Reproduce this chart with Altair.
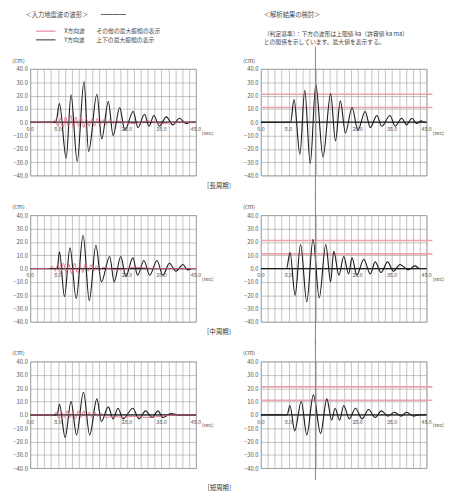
import altair as alt
import pandas as pd

# ---------------- data ----------------
T_MAX = 48
Y_TICKS = [-40, -30, -20, -10, 0, 10, 20, 30, 40]
X_GRID = list(range(0, 49, 2))
X_LABEL_T = [0, 8, 28, 38, 48]
X_LABEL_TXT = ["0.0", "8.0", "28.0", "38.0", "48.0"]
UNIT_T = [48]
UNIT_TXT = ["(sec)"]
LIMITS = [21, 11]
MARK_T = [15.8]

SERIES = ["X方向波　　その他の最大振幅の表示", "Y方向波　　上下の最大振幅の表示"]

L1_T = [0, 7.4, 8.45, 10.4, 11.8, 13.6, 15.55, 16.9, 19.3, 20.7, 22.6, 24.0, 25.9, 27.4, 29.8, 31.2, 33.1, 34.4, 35.8, 37.4, 39.4, 41.3, 43.2, 45.1, 46.4, 48]
L1_V = [0, 0, 14, -27, 20.5, -29.5, 30.5, -22, 21, -12.5, 15.5, -10, 11, -6, 8, -4, 6, -3, 5, -3, 4, -2, 3, -1, 0, 0]
L1_RT = [0, 6.5, 7.2, 8.0, 8.7, 9.5, 10.2, 11.0, 11.7, 12.5, 13.2, 14.0, 14.7, 15.5, 16.2, 17.0, 17.8, 18.6, 19.4, 20.2, 21.0, 22.0, 23.0, 24.0, 25.0, 27, 30, 34, 38, 42, 48]
L1_RV = [0, 0, 2, -3, 3, -4, 4, -3, 5, -4, 4, -3, 4, -4, 3, -3, 2, -3, 3, -2, 2, -2, 2, -1, 1, 0, -1, 1, -1, 0, 0]

L2_T = [0, 7.8, 8.45, 9.9, 11.5, 13.3, 15.3, 17.1, 19.0, 20.6, 23.0, 24.3, 26.2, 27.7, 29.7, 31.1, 32.9, 34.6, 36.7, 38.4, 40.3, 42.2, 44.2, 45.6, 46.8, 48]
L2_V = [0, 0, 12.5, -21, 15.5, -22.5, 25, -24, 17.5, -10, 9, -10, 9, -6, 8, -5, 6, -5, 6, -5, 4, -2, 3, -1, 0, 0]
L2_RT = [0, 5.6, 6.4, 7.2, 8.0, 8.8, 9.6, 10.4, 11.2, 12.0, 12.8, 13.6, 14.4, 15.2, 16.0, 16.8, 17.6, 18.4, 19.2, 20.0, 21.0, 22.6, 26, 30, 36, 48]
L2_RV = [0, 0, 2, -2, 3, -3, 4, -3, 3, -4, 4, -3, 3, -3, 4, -2, 3, -2, 2, -2, 1, 0, -1, 1, 0, 0]

L3_T = [0, 7.8, 8.45, 10.1, 11.8, 13.4, 15.4, 17.2, 19.3, 20.6, 22.6, 24.0, 25.4, 26.9, 29.7, 31.5, 33.4, 35.3, 37.0, 38.4, 40.8, 43.0, 48]
L3_V = [0, 0, 8, -17, 10, -15, 17, -15, 12, -5, 6, -3, 5, -3, 5, -3, 3, -2, 3, -2, 1, 0, 0]
L3_RT = [0, 6.7, 7.5, 8.3, 9.1, 9.9, 10.7, 11.5, 12.3, 13.1, 13.9, 14.7, 15.5, 16.3, 17.1, 17.9, 18.7, 19.5, 20.5, 22.0, 24.0, 27.0, 30.0, 34.0, 38.0, 42.0, 48]
L3_RV = [0, 0, 2, -3, 2, -2, 3, -2, 2, -3, 3, -2, 3, -2, 2, -2, 2, -1, 1, -2, -1, -2, -1, -2, -1, 0, 0]

R1_T = [0, 8.6, 9.6, 11.3, 12.7, 14.3, 15.9, 18.0, 20.2, 21.6, 23.0, 24.5, 26.4, 28.1, 30.2, 31.7, 33.6, 35.0, 37.4, 38.9, 40.8, 42.2, 43.7, 45.1, 46.5, 47.2, 48]
R1_V = [0, 0, 17, -24, 24, -31, 28, -26, 21.5, -14, 16, -8, 11, -6, 8, -4, 5, -3, 5, -3, 3, -2, 3, -1, 1, 0, 0]

R2_T = [0, 7.4, 8.45, 9.9, 11.5, 13.3, 15.1, 16.9, 18.8, 20.2, 21.1, 22.6, 24.0, 25.4, 26.4, 27.8, 29.8, 31.7, 33.1, 34.8, 36.7, 38.4, 40.3, 42.7, 44.6, 46.0, 48]
R2_V = [0, 0, 12, -20, 18, -25, 22, -22, 18, -10, 13, -5, 9, -4, 8, -5, 7, -4, 5, -3, 5, -2, 3, -1, 2, 0, 0]

R3_T = [0, 7.6, 8.4, 9.8, 11.7, 13.3, 15.2, 17.3, 19.1, 20.5, 21.5, 22.8, 24.0, 25.6, 27.4, 29.3, 31.2, 33.1, 34.9, 36.8, 38.7, 40.6, 42.2, 44.2, 45.6, 48]
R3_V = [0, 0, 7, -12, 10, -15, 15, -14, 12, -4, 5, -4, 7, -3, 5, -3, 4, -2, 3, -1, 2, -1, 2, -1, 0, 0]

CAPTIONS = ["［長周期］", "［中周期］", "［短周期］"]
LEFT_HEAD = "＜入力地震波の波形＞　　━━━━"
RIGHT_HEAD = "＜解析結果の検討＞"
RIGHT_SUB = ["　　（判定基準）：下方の波形は上限値 ka（許容値 ka ma）",
             "　　との関係を示しています。最大値を表示する。"]

# ---------------- style ----------------
W, H = 171, 110
PINK = "#e0647c"
LIMIT_PINK = "#eca3ae"
INK = "#1c1c1c"
GRID = "#9a9a9a"
FONT = "Noto Sans CJK JP"

xs = alt.Scale(domain=[0, T_MAX], nice=False, zero=False)
ys = alt.Scale(domain=[-40, 40], nice=False)
xax = alt.Axis(values=X_GRID, labels=False, ticks=False, domain=False, grid=True, title=None)
yax = alt.Axis(values=Y_TICKS, format=".1f", ticks=False, domain=False, grid=True,
               title="(cm)", titleAngle=0, titleX=-19, titleY=-6, titleAlign="left",
               titleBaseline="bottom", labelPadding=3)


def panel(t, v, red=None, right=False, title=None, legend=False, rule_down=25):
    layers = []
    if right:
        layers.append(
            alt.Chart(pd.DataFrame({"y": LIMITS})).mark_rule(color=LIMIT_PINK, strokeWidth=1.6)
            .encode(y=alt.Y("y:Q", scale=ys, axis=yax), x=alt.value(0), x2=alt.value(W + 6))
        )
    layers.append(
        alt.Chart(pd.DataFrame({"y": [0]})).mark_rule(color=INK, strokeWidth=1.3)
        .encode(y=alt.Y("y:Q", scale=ys, axis=yax))
    )
    if legend:
        color = alt.Color("s:N", scale=alt.Scale(domain=SERIES, range=[PINK, INK]),
                          legend=alt.Legend(orient="none", legendX=10, legendY=-45, title=None,
                                            symbolType="M-2,0L2,0", symbolSize=100,
                                            symbolStrokeWidth=1.1, labelFontSize=6,
                                            labelColor="#444", rowPadding=-3, labelOffset=13))
    else:
        color = None
    bdf = pd.DataFrame({"t": t, "v": v, "s": SERIES[1]})
    black = alt.Chart(bdf).mark_line(interpolate="monotone", strokeWidth=1.15).encode(
        x=alt.X("t:Q", scale=xs, axis=xax), y=alt.Y("v:Q", scale=ys, axis=yax), order="t:Q",
        color=color if legend else alt.value(INK))
    layers.append(black)
    if red is not None:
        rdf = pd.DataFrame({"t": red[0], "v": red[1], "s": SERIES[0]})
        redl = alt.Chart(rdf).mark_line(interpolate="monotone", strokeWidth=1.0, opacity=0.85).encode(
            x=alt.X("t:Q", scale=xs, axis=xax), y=alt.Y("v:Q", scale=ys, axis=yax), order="t:Q",
            color=color if legend else alt.value(PINK))
        layers.append(redl)
    if right:
        layers.append(
            alt.Chart(pd.DataFrame({"t": MARK_T})).mark_rule(color="#d9576e", strokeWidth=1.0)
            .encode(x=alt.X("t:Q", scale=xs, axis=xax), y=alt.value(-23), y2=alt.value(H + rule_down))
        )
    lab = pd.DataFrame({"t": X_LABEL_T, "txt": X_LABEL_TXT, "y": 0})
    layers.append(
        alt.Chart(lab).mark_text(dy=7, fontSize=5.5, color="#555")
        .encode(x=alt.X("t:Q", scale=xs, axis=xax), y=alt.Y("y:Q", scale=ys, axis=yax), text="txt:N")
    )
    unit = pd.DataFrame({"t": UNIT_T, "txt": UNIT_TXT, "y": 0})
    layers.append(
        alt.Chart(unit).mark_text(dy=11, dx=6, align="left", fontSize=5.5, color="#555")
        .encode(x=alt.X("t:Q", scale=xs, axis=xax), y=alt.Y("y:Q", scale=ys, axis=yax), text="txt:N")
    )
    ch = alt.layer(*layers).properties(width=W, height=H)
    if title is not None:
        ch = ch.properties(title=title)
    return ch


def cap_top(txt):
    return alt.TitleParams(text=txt, anchor="start", frame="group", align="right", dx=-27,
                           offset=3, fontSize=6.5, fontWeight="normal", color="#333")


p_l1 = panel(L1_T, L1_V, red=(L1_RT, L1_RV), legend=True,
             title=alt.TitleParams(text=LEFT_HEAD, anchor="start", frame="group", align="left",
                                   dx=-5, offset=40, fontSize=6.5, fontWeight="normal", color="#444"))
p_r1 = panel(R1_T, R1_V, right=True,
             title=alt.TitleParams(text=RIGHT_HEAD, subtitle=RIGHT_SUB, anchor="start", frame="group",
                                   align="left", dx=3, offset=1, fontSize=6.5, fontWeight="normal",
                                   color="#444", subtitleFontSize=6, subtitleColor="#444",
                                   subtitlePadding=13, subtitleLineHeight=9))
p_l2 = panel(L2_T, L2_V, red=(L2_RT, L2_RV))
p_r2 = panel(R2_T, R2_V, right=True, title=cap_top(CAPTIONS[0]))
p_l3 = panel(L3_T, L3_V, red=(L3_RT, L3_RV),
             title=alt.TitleParams(text=CAPTIONS[2], orient="bottom", anchor="end", frame="group",
                                   align="left", dx=8, offset=15, fontSize=6.5, fontWeight="normal",
                                   color="#333"))
p_r3 = panel(R3_T, R3_V, right=True, title=cap_top(CAPTIONS[1]), rule_down=12)

chart = alt.concat(
    p_l1, p_r1, p_l2, p_r2, p_l3, p_r3,
    columns=2, spacing={"row": 41, "column": 67}, bounds="flush", align="all",
).properties(
    padding={"left": 3, "top": -5, "right": 0, "bottom": 0}
).configure(font=FONT).configure_view(
    stroke=GRID, strokeWidth=0.8
).configure_axis(
    gridColor=GRID, gridWidth=0.6, labelFontSize=6, labelColor="#555", labelFont=FONT,
    titleFontSize=6, titleFontWeight="normal", titleColor="#555", titleFont=FONT
).configure_title(font=FONT, subtitleFont=FONT)

chart.save("out.html", embed_options={"renderer": "svg", "actions": False})
